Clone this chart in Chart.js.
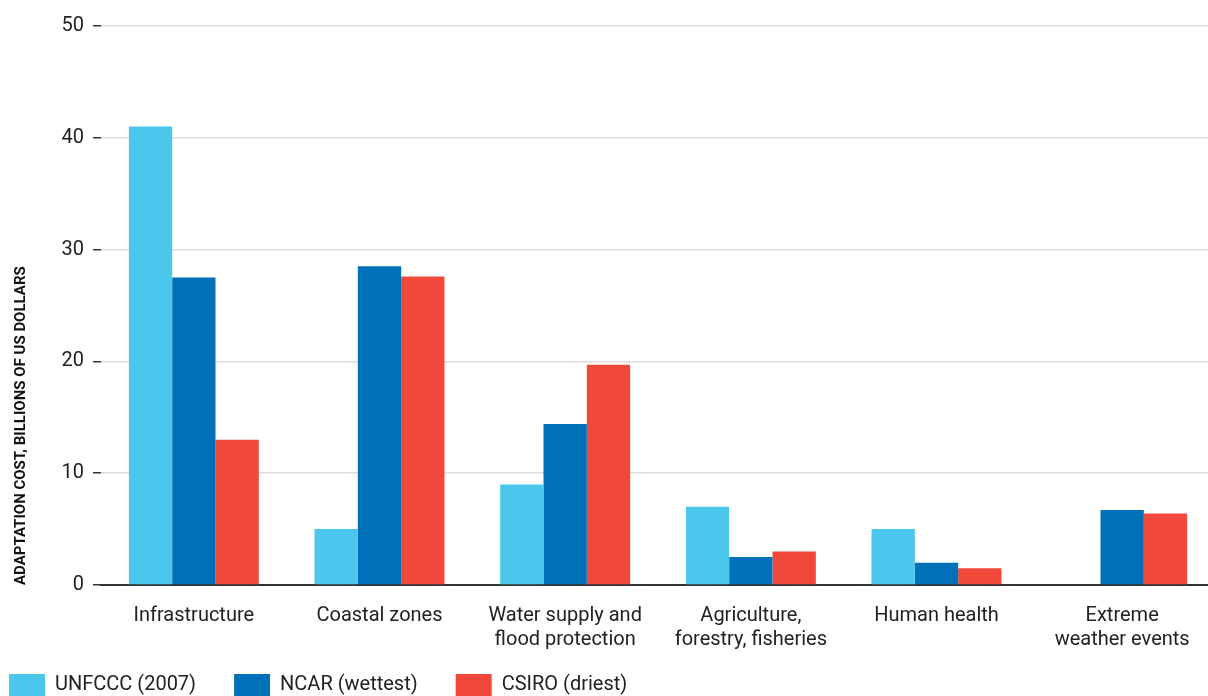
<!DOCTYPE html>
<html>
<head>
<meta charset="utf-8">
<script src="https://cdn.jsdelivr.net/npm/chart.js@4.4.1/dist/chart.umd.min.js"></script>
<style>
  html, body { margin:0; padding:0; background:#fff; overflow:hidden; }
  #wrap { width:1244px; height:725px; margin-left:-29px; }
</style>
</head>
<body>
<div id="wrap"><canvas id="costChart"></canvas></div>
<script>
"use strict";
const categories = [
  "Infrastructure",
  "Coastal zones",
  ["Water supply and", "flood protection"],
  ["Agriculture,", "forestry, fisheries"],
  "Human health",
  ["Extreme", "weather events"]
];
const unfcccValues = [41, 5, 9, 7, 5, null];
const ncarValues   = [27.5, 28.5, 14.4, 2.5, 2.0, 6.7];
const csiroValues  = [13, 27.6, 19.7, 3.0, 1.5, 6.4];
const yTicks = [0, 10, 20, 30, 40, 50];

const FONT = "Roboto, 'Noto Sans', sans-serif";

// legend sits a bit higher than chart.js puts it (items are spaced wide)
const legendLift = {
  id: "legendLift",
  afterLayout(chart) {
    chart.legend.top -= 19;
    chart.legend.bottom -= 19;
  }
};

const ctx = document.getElementById("costChart").getContext("2d");
new Chart(ctx, {
  type: "bar",
  plugins: [legendLift],
  data: {
    labels: categories,
    datasets: [
      { label:"UNFCCC (2007)",  data:unfcccValues, backgroundColor:"#4ac7ea" },
      { label:"NCAR (wettest)", data:ncarValues,   backgroundColor:"#0070b8" },
      { label:"CSIRO (driest)", data:csiroValues,  backgroundColor:"#f0483a" }
    ]
  },
  options: {
    responsive: true,
    maintainAspectRatio: false,
    animation: false,
    datasets: { bar: { categoryPercentage:0.7, barPercentage:1.0, borderWidth:0 } },
    layout: { padding: { top:26, left:0, right:0, bottom:0 } },
    plugins: {
      tooltip: { enabled:false },
      legend: {
        position: "bottom",
        align: "start",
        labels: {
          boxWidth: 36,
          boxHeight: 22,
          padding: 38,
          color: "#222",
          font: { family:FONT, size:20 }
        }
      }
    },
    scales: {
      x: {
        afterFit: axis => { axis.height = 70; },
        grid: { display:false, drawTicks:false },
        border: { color:"#333", width:2 },
        ticks: { color:"#222", padding:19, font: { family:FONT, size:20, lineHeight:1.2 }, maxRotation:0, autoSkip:false }
      },
      y: {
        min: 0,
        max: 50,
        afterBuildTicks: axis => { axis.ticks = yTicks.map(v => ({ value:v })); },
        afterFit: axis => { axis.width = 130; },
        grid: { color:"#dddddd", lineWidth:1.5, tickColor:"#333", tickLength:8 },
        border: { display:false },
        ticks: { color:"#222", padding:9, font: { family:FONT, size:20 } },
        title: {
          display: true,
          align: "start",
          text: "ADAPTATION COST, BILLIONS OF US DOLLARS",
          color: "#111",
          padding: { top:41, bottom:0 },
          font: { family:FONT, size:15, weight:"bold" }
        }
      }
    }
  }
});
</script>
</body>
</html>
